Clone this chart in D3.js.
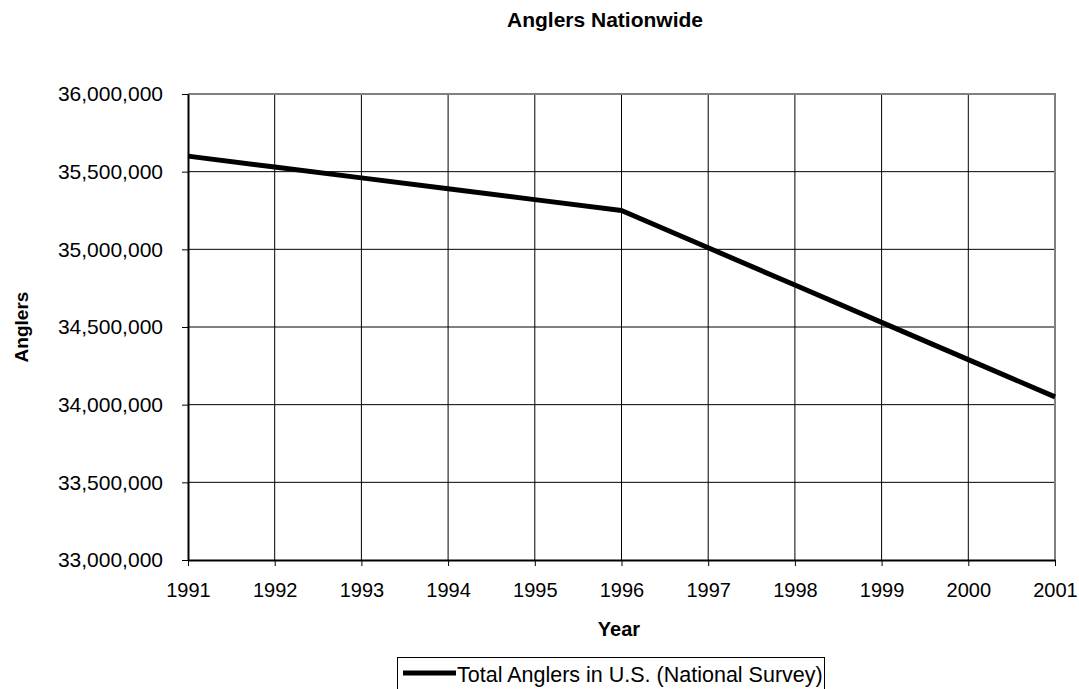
<!DOCTYPE html>
<html>
<head>
<meta charset="utf-8">
<script src="https://cdn.jsdelivr.net/npm/d3@7"></script>
<style>
  body { margin: 0; background: #fff; }
  text { font-family: Arial, "Liberation Sans", sans-serif; fill: #000; }
</style>
</head>
<body>
<svg id="chart"></svg>
<script>
// values
const years = [1991, 1992, 1993, 1994, 1995, 1996, 1997, 1998, 1999, 2000, 2001];
const anglers = [35600000, 35530000, 35460000, 35390000, 35320000, 35250000,
                 35010000, 34770000, 34530000, 34290000, 34050000];
const yTicks = [33000000, 33500000, 34000000, 34500000, 35000000, 35500000, 36000000];
const seriesName = 'Total Anglers in U.S. (National Survey)';

const fontFamily = 'Arial, "Liberation Sans", sans-serif';

const chart = {
  width: 1079,
  height: 689,
  padding: {left: 188, right: 24, top: 94, bottom: 129},

  draw: () => {
    let svg = d3.select('#chart')
      .attr('width', chart.width)
      .attr('height', chart.height);
    let p = chart.padding;
    let x = d3.scaleLinear().domain([1991, 2001]).range([p.left, chart.width - p.right]);
    let y = d3.scaleLinear().domain([33000000, 36000000]).range([chart.height - p.bottom, p.top]);

    // gridlines
    let grid = svg.append('g');
    grid.selectAll('line.v')
      .data(years.slice(1))
      .join('line')
      .attr('x1', d => x(d)).attr('x2', d => x(d))
      .attr('y1', y(36000000)).attr('y2', y(33000000))
      .attr('stroke', '#000').attr('stroke-width', 1);
    grid.selectAll('line.h')
      .data(yTicks.slice(1))
      .join('line')
      .attr('x1', x(1991)).attr('x2', x(2001))
      .attr('y1', d => y(d)).attr('y2', d => y(d))
      .attr('stroke', '#000').attr('stroke-width', 1);

    // plot border top/right in grey
    svg.append('path')
      .attr('d', `M${x(1991)},${y(36000000)}H${x(2001)}V${y(33000000)}`)
      .attr('fill', 'none').attr('stroke', '#808080').attr('stroke-width', 2);

    // axes
    let axisX = d3.axisBottom(x).tickValues(years).tickFormat(d3.format('d'))
      .tickSize(6).tickSizeOuter(0).tickPadding(17);
    svg.append('g')
      .attr('transform', `translate(0,${y(33000000)})`)
      .call(axisX)
      .attr('font-family', fontFamily)
      .attr('font-size', 20)
      .call(g => g.select('.domain').attr('stroke-width', 2));

    let axisY = d3.axisLeft(y).tickValues(yTicks).tickFormat(d3.format(','))
      .tickSize(6).tickSizeOuter(0).tickPadding(19);
    svg.append('g')
      .attr('transform', `translate(${x(1991)},0)`)
      .call(axisY)
      .attr('font-family', fontFamily)
      .attr('font-size', 21)
      .call(g => g.select('.domain').attr('stroke-width', 2));

    // series line
    svg.append('path')
      .datum(years.map((d, i) => [d, anglers[i]]))
      .attr('d', d3.line().x(d => x(d[0])).y(d => y(d[1])))
      .attr('fill', 'none').attr('stroke', '#000').attr('stroke-width', 5)
      .attr('stroke-linejoin', 'round');

    // titles
    svg.append('text')
      .attr('x', 605).attr('y', 27)
      .attr('text-anchor', 'middle')
      .attr('font-size', 21).attr('font-weight', 'bold')
      .text('Anglers Nationwide');
    svg.append('text')
      .attr('x', 619).attr('y', 636)
      .attr('text-anchor', 'middle')
      .attr('font-size', 20).attr('font-weight', 'bold')
      .text('Year');
    svg.append('text')
      .attr('transform', `translate(28,${(y(33000000) + y(36000000)) / 2}) rotate(-90)`)
      .attr('text-anchor', 'middle')
      .attr('font-size', 19).attr('font-weight', 'bold')
      .text('Anglers');

    // legend
    let lg = svg.append('g');
    lg.append('rect')
      .attr('x', 397.5).attr('y', 657.5).attr('width', 427).attr('height', 40)
      .attr('fill', '#fff').attr('stroke', '#000').attr('stroke-width', 1);
    lg.append('line')
      .attr('x1', 403).attr('x2', 456).attr('y1', 673).attr('y2', 673)
      .attr('stroke', '#000').attr('stroke-width', 5);
    lg.append('text')
      .attr('x', 457).attr('y', 682)
      .attr('font-size', 21.5)
      .text(seriesName);
  }
};

chart.draw();
</script>
</body>
</html>
